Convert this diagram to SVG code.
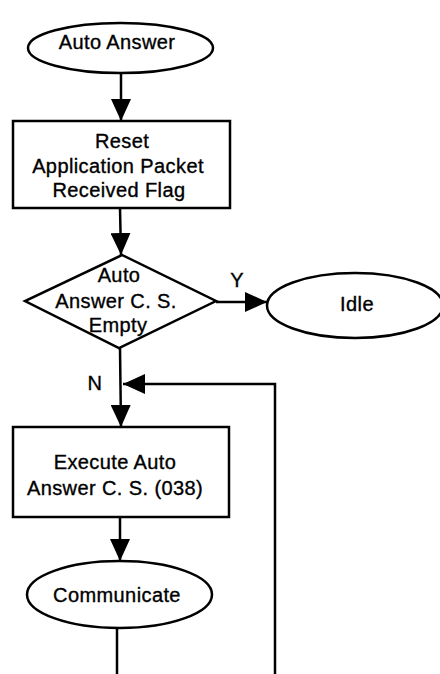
<svg xmlns="http://www.w3.org/2000/svg" width="440" height="674" viewBox="0 0 440 674">
<defs>
<style>
.s{fill:#fff;stroke:#000;stroke-width:2.5}
.c{fill:none;stroke:#000;stroke-width:2.5}
text{font-family:"Liberation Sans",Arial,sans-serif;font-size:20px;fill:#000;stroke:#000;stroke-width:0.35;text-anchor:middle;letter-spacing:0.4px}
</style>
<marker id="ah" markerUnits="userSpaceOnUse" markerWidth="22" markerHeight="20" refX="22" refY="10" orient="auto">
<path d="M0,0 L22,10 L0,20 Z" fill="#000"/>
</marker>
</defs>
<rect width="440" height="674" fill="#fff"/>
<g id="connectors">
<line class="c" x1="121" y1="73" x2="121" y2="121" marker-end="url(#ah)"/>
<line class="c" x1="120" y1="208" x2="121" y2="255" marker-end="url(#ah)"/>
<line class="c" x1="216" y1="302" x2="267" y2="302" marker-end="url(#ah)"/>
<line class="c" x1="120" y1="348" x2="121" y2="427" marker-end="url(#ah)"/>
<polyline class="c" points="117,674 117,628"/>
<polyline class="c" points="275,674 275,384 123,384" marker-end="url(#ah)"/>
<line class="c" x1="120" y1="517" x2="120" y2="561" marker-end="url(#ah)"/>
<text x="237" y="287">Y</text>
<text x="95" y="390">N</text>
</g>
<g id="auto-answer">
<ellipse class="s" cx="120.5" cy="48" rx="92.5" ry="25"/>
<text x="117" y="49">Auto Answer</text>
</g>
<g id="reset">
<rect class="s" x="13" y="121" width="217" height="87"/>
<text x="122" y="148">Reset</text>
<text x="118" y="173">Application Packet</text>
<text x="119" y="197">Received Flag</text>
</g>
<g id="decision">
<polygon class="s" points="122,255 216,301 119,348 25,301"/>
<text x="119" y="282">Auto</text>
<text x="116" y="308">Answer C. S.</text>
<text x="118" y="332">Empty</text>
</g>
<g id="idle">
<ellipse class="s" cx="355" cy="305.5" rx="88" ry="32.5"/>
<text x="357" y="311">Idle</text>
</g>
<g id="execute">
<rect class="s" x="13" y="427" width="216" height="90"/>
<text x="115" y="469">Execute Auto</text>
<text x="115" y="495">Answer C. S. (038)</text>
</g>
<g id="communicate">
<ellipse class="s" cx="119.5" cy="594.5" rx="92.5" ry="33.5"/>
<text x="117" y="602">Communicate</text>
</g>
</svg>
